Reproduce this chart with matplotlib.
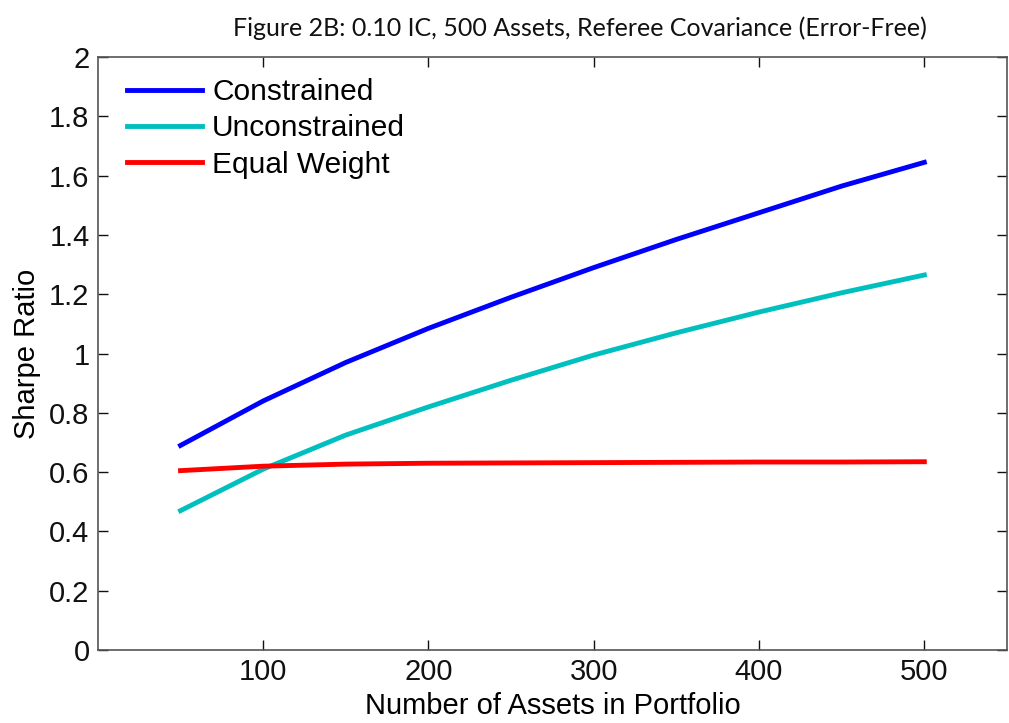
import matplotlib
matplotlib.use('Agg')
import matplotlib.pyplot as plt

assets = [50, 100, 150, 200, 250, 300, 350, 400, 450, 500]
constrained = [0.69, 0.84, 0.97, 1.085, 1.19, 1.29, 1.385, 1.475, 1.565, 1.645]
unconstrained = [0.47, 0.61, 0.725, 0.82, 0.91, 0.995, 1.07, 1.14, 1.205, 1.265]
equal_weight = [0.605, 0.62, 0.627, 0.63, 0.631, 0.632, 0.633, 0.634, 0.634, 0.635]

plt.rcParams['font.family'] = ['Liberation Sans', 'DejaVu Sans']

fig = plt.figure(figsize=(10.09, 7.23), dpi=100)
ax = fig.add_axes([0.097, 0.101, 0.901, 0.820])

ax.plot(assets, constrained, color='#0000ff', lw=3.5, label='Constrained')
ax.plot(assets, unconstrained, color='#00bfbf', lw=3.5, label='Unconstrained')
ax.plot(assets, equal_weight, color='#ff0000', lw=3.5, label='Equal Weight')

ax.set_xlim(0, 550)
ax.set_ylim(0, 2)
ax.set_xticks([100, 200, 300, 400, 500])
ax.set_yticks([0, 0.2, 0.4, 0.6, 0.8, 1, 1.2, 1.4, 1.6, 1.8, 2])
ax.set_yticklabels(['0', '0.2', '0.4', '0.6', '0.8', '1', '1.2', '1.4', '1.6', '1.8', '2'])
ax.tick_params(direction='in', top=True, right=True, labelsize=21, length=7, width=1,
               colors='#111111', pad=6)
for s in ax.spines.values():
    s.set_color('#555555')
    s.set_linewidth(1.2)

ax.set_xlabel('Number of Assets in Portfolio', fontsize=21, labelpad=4)
ax.set_ylabel('Sharpe Ratio', fontsize=21, labelpad=6)
ax.set_title('Figure 2B: 0.10 IC, 500 Assets, Referee Covariance (Error-Free)',
             fontsize=18, family=['Lato', 'DejaVu Sans'], color='#111111',
             x=0.53, pad=15)

ax.legend(loc='upper left', bbox_to_anchor=(0.009, 1.0), fontsize=21.5, frameon=False,
          handlelength=2.5, handletextpad=0.35, labelspacing=0.28, borderaxespad=0.3)

fig.savefig('out.png', dpi=100)
